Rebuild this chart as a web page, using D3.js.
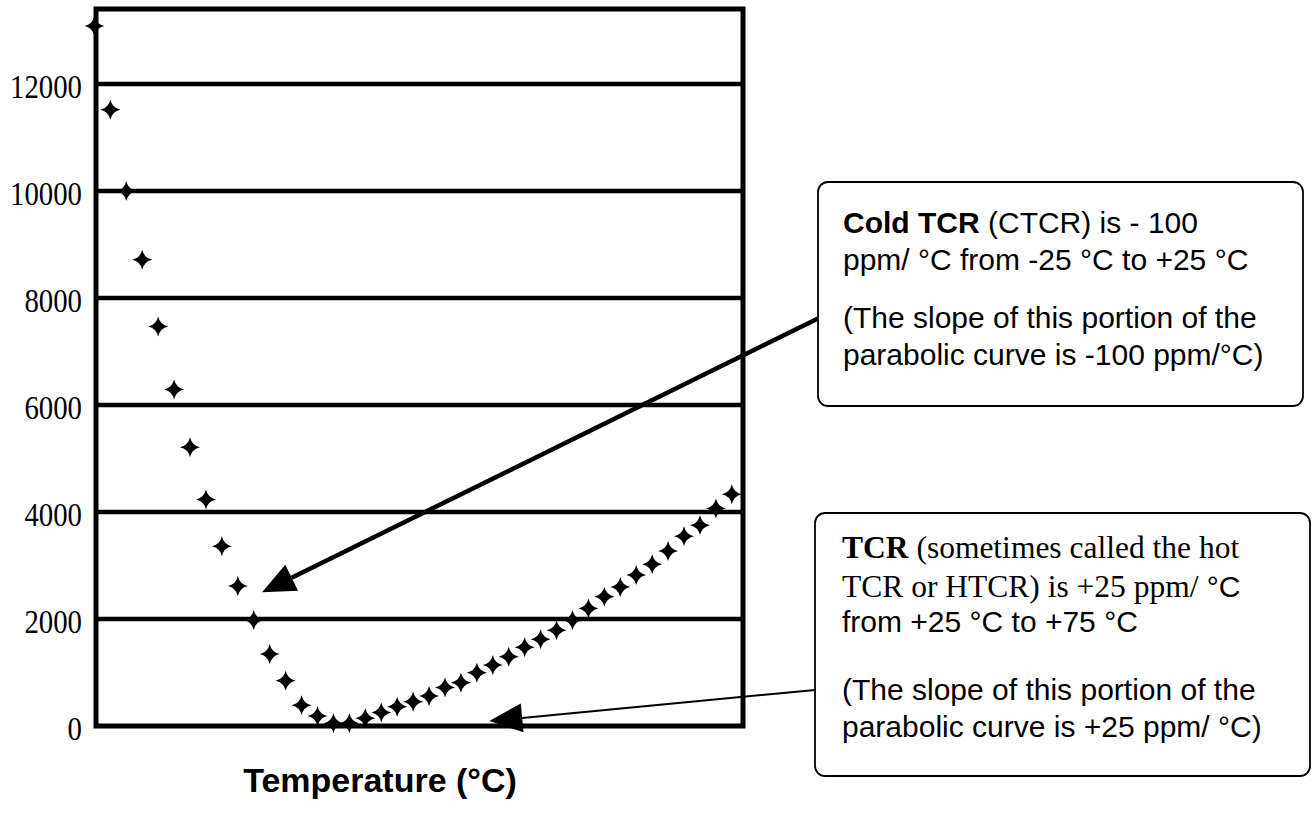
<!DOCTYPE html>
<html>
<head>
<meta charset="utf-8">
<script src="https://cdn.jsdelivr.net/npm/d3@7"></script>
<style>
  body { margin: 0; background: #fff; }
</style>
</head>
<body>
<div id="chart"></div>
<script>
// readings: temperature (°C) and resistance change (ppm)
const temps = [-55, -50, -45, -40, -35, -30, -25, -20, -15, -10, -5, 0, 5, 10, 15, 20, 25, 30, 35, 40,
  45, 50, 55, 60, 65, 70, 75, 80, 85, 90, 95, 100, 105, 110, 115, 120, 125, 130, 135, 140, 145];
const ppm = [13080, 11515, 10000, 8715, 7465, 6290, 5210, 4235, 3360, 2615, 1980, 1345, 845, 390, 185, 50, 50, 145, 250, 360,
  455, 560, 720, 810, 995, 1140, 1295, 1470, 1620, 1790, 1980, 2195, 2415, 2600, 2820, 3025, 3270, 3545, 3750, 4065, 4330];
const yTicks = [0, 2000, 4000, 6000, 8000, 10000, 12000];
const xTitle = 'Temperature (°C)';

// where the two arrows point, in data units
const coldTarget = { t: -2.4, v: 2500 };
const hotTarget = { t: 68.9, v: 93 };

const W = 1313, H = 824;
const svg = d3.select('#chart').append('svg').attr('width', W).attr('height', H);

const x = d3.scaleLinear().domain([-54.5, 148.5]).range([96, 743]);
const y = d3.scaleLinear().domain([0, 13400]).range([726, 9]);

// grid lines
svg.append('g')
  .selectAll('line')
  .data(yTicks.filter(d => d > 0))
  .join('line')
  .attr('x1', x.range()[0]).attr('x2', x.range()[1])
  .attr('y1', d => y(d)).attr('y2', d => y(d))
  .attr('stroke', '#000')
  .attr('stroke-width', 4.5);

// plot frame
svg.append('rect')
  .attr('x', x.range()[0]).attr('y', y.range()[1])
  .attr('width', x.range()[1] - x.range()[0])
  .attr('height', y.range()[0] - y.range()[1])
  .attr('fill', 'none')
  .attr('stroke', '#000')
  .attr('stroke-width', 5);

// y tick labels
const yAxis = svg.append('g')
  .attr('transform', `translate(${x.range()[0]},0)`)
  .call(d3.axisLeft(y).tickValues(yTicks).tickSize(0).tickPadding(14).tickFormat(d3.format('d')));
yAxis.select('.domain').remove();
yAxis.selectAll('text')
  .attr('font-family', '"Liberation Serif", serif')
  .attr('font-size', 34)
  .attr('fill', '#000')
  .attr('dy', '0.4em')
  .attr('textLength', d => String(d).length * 14.4)
  .attr('lengthAdjust', 'spacingAndGlyphs');

// 4-point star marker
const star4 = {
  draw(context, size) {
    const r = Math.sqrt(size) / 2, c = r * 0.18;
    context.moveTo(0, -r);
    context.quadraticCurveTo(c, -c, r, 0);
    context.quadraticCurveTo(c, c, 0, r);
    context.quadraticCurveTo(-c, c, -r, 0);
    context.quadraticCurveTo(-c, -c, 0, -r);
    context.closePath();
  }
};

svg.append('g')
  .selectAll('path')
  .data(temps.map((t, i) => ({ t, v: ppm[i] })))
  .join('path')
  .attr('transform', d => `translate(${x(d.t)},${y(d.v)})`)
  .attr('d', d3.symbol().type(star4).size(400))
  .attr('fill', '#000');

// x axis title
svg.append('text')
  .attr('x', 380).attr('y', 792)
  .attr('text-anchor', 'middle')
  .attr('font-family', '"Liberation Sans", Arial, sans-serif')
  .attr('font-weight', 'bold')
  .attr('font-size', 34)
  .text(xTitle);

// arrows from the callouts to the curve
function arrow(x0, y0, x1, y1, width) {
  const len = Math.hypot(x1 - x0, y1 - y0);
  const ux = (x1 - x0) / len, uy = (y1 - y0) / len;
  const bx = x1 - ux * 33, by = y1 - uy * 33;
  const nx = -uy * 14.5, ny = ux * 14.5;
  svg.append('line')
    .attr('x1', x0).attr('y1', y0).attr('x2', bx).attr('y2', by)
    .attr('stroke', '#000').attr('stroke-width', width);
  svg.append('path')
    .attr('d', d3.line()([[x1, y1], [bx + nx, by + ny], [bx - nx, by - ny]]) + 'Z')
    .attr('fill', '#000');
}
arrow(818, 318.5, x(coldTarget.t), y(coldTarget.v), 4.5);
arrow(815, 690, x(hotTarget.t), y(hotTarget.v), 2);

// callout boxes
const sans = '"Liberation Sans", Arial, sans-serif';
const serif = '"Liberation Serif", "Times New Roman", serif';

function callout(bx, by, bw, bh, tx, lines) {
  svg.append('rect')
    .attr('x', bx).attr('y', by).attr('width', bw).attr('height', bh)
    .attr('rx', 10).attr('ry', 10)
    .attr('fill', '#fff').attr('stroke', '#000').attr('stroke-width', 1.8);
  lines.forEach(line => {
    const t = svg.append('text').attr('x', tx).attr('y', line.y).attr('fill', '#000');
    line.parts.forEach(p => {
      t.append('tspan')
        .attr('font-family', p.f === 'serif' ? serif : sans)
        .attr('font-size', p.f === 'serif' ? 31.5 : 30)
        .attr('font-weight', p.b ? 'bold' : 'normal')
        .text(p.s);
    });
  });
}

callout(818, 182, 485, 224, 843, [
  { y: 233, parts: [{ s: 'Cold TCR', b: true }, { s: ' (CTCR) is - 100' }] },
  { y: 270, parts: [{ s: 'ppm/ °C from -25 °C to +25 °C' }] },
  { y: 328, parts: [{ s: '(The slope of this portion of the' }] },
  { y: 365, parts: [{ s: 'parabolic curve is -100 ppm/°C)' }] }
]);

callout(815, 513, 495, 263, 842, [
  { y: 558, parts: [{ s: 'TCR', b: true, f: 'serif' }, { s: ' (sometimes called the hot', f: 'serif' }] },
  { y: 597, parts: [{ s: 'TCR or HTCR) is +25 ppm/', f: 'serif' }, { s: ' °C' }] },
  { y: 632, parts: [{ s: 'from +25 °C to +75 °C' }] },
  { y: 700, parts: [{ s: '(The slope of this portion of the' }] },
  { y: 737, parts: [{ s: 'parabolic curve is +25 ppm/ °C)' }] }
]);
</script>
</body>
</html>
